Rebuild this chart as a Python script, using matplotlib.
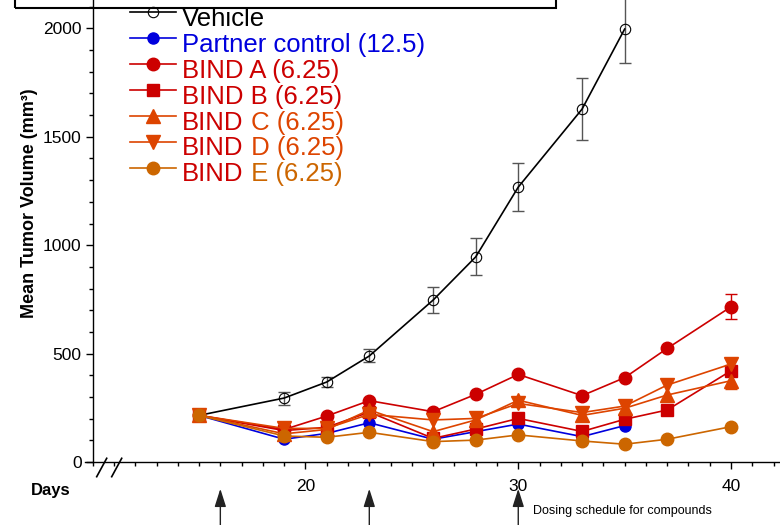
import numpy as np
import matplotlib
matplotlib.use("Agg")
import matplotlib.pyplot as plt
from matplotlib.lines import Line2D
from matplotlib.patches import Rectangle
from matplotlib.ticker import MultipleLocator, FixedLocator
from matplotlib.transforms import Bbox, TransformedBbox

plt.rcParams['font.family'] = ['Liberation Sans', 'DejaVu Sans']

# Data
vehicle_days = [15, 19, 21, 23, 26, 28, 30, 33, 35]
vehicle = [215, 295, 369, 489, 747, 946, 1268, 1628, 1997]
vehicle_err = [0, 30, 25, 30, 60, 85, 110, 143, 155]

partner_days = [15, 19, 21, 23, 26, 28, 30, 33, 35]
partner = [215, 105, 132, 181, 105, 140, 175, 117, 168]

bind_days = [15, 19, 21, 23, 26, 28, 30, 33, 35, 37, 40]
bind_a = [215, 150, 212, 283, 232, 312, 404, 306, 389, 524, 716]
bind_a_err = [0, 0, 0, 0, 0, 0, 0, 0, 0, 0, 57]
bind_b = [215, 145, 160, 230, 109, 152, 201, 141, 197, 240, 421]
bind_c = [215, 130, 150, 240, 140, 194, 285, 215, 248, 309, 375]
bind_c_err = [0, 0, 0, 0, 0, 0, 0, 0, 0, 0, 38]
bind_d = [215, 155, 155, 220, 194, 201, 270, 228, 258, 355, 452]
bind_e = [215, 120, 114, 137, 94, 101, 125, 97, 82, 105, 163]

dosing_days = [16, 23, 30]

RED = '#cc0000'
ORANGE_RED = '#dd4400'
ORANGE = '#cc6600'
BLUE = '#0000dd'

W, H = 780, 525
fig = plt.figure(figsize=(W / 100, H / 100), dpi=100)
ax = fig.add_axes([85 / W, 63 / H, 695 / W, 462 / H])


def px(x, y):
    # figure pixel (from top-left) -> figure fraction
    return x / W, 1 - y / H


def err_bars(days, vals, errs, color):
    d = [x for x, e in zip(days, errs) if e > 0]
    v = [x for x, e in zip(vals, errs) if e > 0]
    e = [x for x in errs if x > 0]
    ax.errorbar(d, v, yerr=e, fmt='none', ecolor=color, elinewidth=1,
                capsize=4.5, capthick=1, zorder=2)


lw = 1.2
err_bars(vehicle_days, vehicle, vehicle_err, '#555555')
ax.plot(vehicle_days, vehicle, color='black', lw=lw, marker='o', ms=7.5,
        mfc='none', mec='black', mew=0.8, zorder=3)
ax.plot(partner_days, partner, color=BLUE, lw=lw, marker='o', ms=8, zorder=3)
err_bars(bind_days, bind_a, bind_a_err, RED)
ax.plot(bind_days, bind_a, color=RED, lw=lw, marker='o', ms=9, zorder=3)
ax.plot(bind_days, bind_b, color=RED, lw=lw, marker='s', ms=8.5, zorder=3)
err_bars(bind_days, bind_c, bind_c_err, ORANGE_RED)
ax.plot(bind_days, bind_c, color=ORANGE_RED, lw=lw, marker='^', ms=9.5, zorder=3)
ax.plot(bind_days, bind_d, color=ORANGE_RED, lw=lw, marker='v', ms=9.5, zorder=3)
ax.plot(bind_days, bind_e, color=ORANGE, lw=lw, marker='o', ms=9, zorder=3)

# axes styling
ax.set_xlim(9.64, 42.3)
ax.set_ylim(0, 2131)
ax.spines['top'].set_visible(False)
ax.spines['right'].set_visible(False)
ax.spines['left'].set_position(('data', 10))
for s in ('left', 'bottom'):
    ax.spines[s].set_linewidth(1.0)
ax.xaxis.set_major_locator(FixedLocator([20, 30, 40]))
ax.xaxis.set_minor_locator(MultipleLocator(1))
ax.yaxis.set_major_locator(MultipleLocator(500))
ax.yaxis.set_minor_locator(MultipleLocator(100))
ax.tick_params(axis='both', which='major', length=5, width=1, labelsize=12.5)
ax.tick_params(axis='both', which='minor', length=3, width=1)
ax.tick_params(axis='x', which='major', pad=7)
ax.tick_params(axis='y', which='major', pad=3)

ax.set_ylabel('Mean Tumor Volume (mm³)', fontsize=13, fontweight='bold')
ax.yaxis.set_label_coords(-0.068, 0.56)

# axis break marks
for x0 in (96.7, 111.7):
    fig.add_artist(Line2D([x0 / W, (x0 + 10) / W], [1 - 476.7 / H, 1 - 458.3 / H],
                          color='black', lw=1.2))

# "Days" label, clipped like the original
days_txt = fig.text(*px(31, 495), 'Days', fontsize=12, fontweight='bold',
                    va='baseline', ha='left')
days_txt.set_clip_box(TransformedBbox(Bbox([[0, 0], [69 / W, 1]]), fig.transFigure))
days_txt.set_clip_on(True)

# dosing arrows
for d in dosing_days:
    ax.annotate('', xy=(d, -0.058), xytext=(d, -0.15),
                xycoords=ax.get_xaxis_transform(),
                arrowprops=dict(arrowstyle='-|>,head_length=1.1,head_width=0.35',
                                mutation_scale=10, color='#222222', lw=1,
                                shrinkA=0, shrinkB=0),
                annotation_clip=False)
fig.text(*px(533, 511), 'Dosing schedule for compounds', fontsize=9,
         va='center', ha='left')

# box at the top
fig.add_artist(Rectangle(px(15, 8), 541 / W, 0.2, transform=fig.transFigure,
                         fill=False, lw=1.5, edgecolor='black', clip_on=False))

# legend with two-coloured labels
entries = [
    ('o', 'black', 'none', 7.5, [('Vehicle', 'black')]),
    ('o', BLUE, BLUE, 8, [('Partner control (12.5)', BLUE)]),
    ('o', RED, RED, 9, [('BIND A (6.25)', RED)]),
    ('s', RED, RED, 8.5, [('BIND B (6.25)', RED)]),
    ('^', ORANGE_RED, ORANGE_RED, 9.5, [('BIND', RED), (' C (6.25)', ORANGE_RED)]),
    ('v', ORANGE_RED, ORANGE_RED, 9.5, [('BIND', RED), (' D (6.25)', ORANGE_RED)]),
    ('o', ORANGE, ORANGE, 9, [('BIND', RED), (' E (6.25)', ORANGE)]),
]
for i, (mk, col, fc, ms, parts) in enumerate(entries):
    base = 26 + i * 25.9
    ly = base - 13.8
    xs = [130 / W, 153 / W, 176 / W]
    fig.add_artist(Line2D(xs, [1 - ly / H] * 3, color=col, lw=lw, marker=mk,
                          markevery=[1], ms=ms, mfc=fc, mec=col,
                          mew=0.8 if fc == 'none' else 1))
    first = fig.text(*px(182, base), parts[0][0], fontsize=18.5, color=parts[0][1],
                     va='baseline', ha='left')
    for txt, c in parts[1:]:
        ax.annotate(txt, xy=(1, 0), xycoords=first, va='bottom', ha='left',
                    fontsize=18.5, color=c, annotation_clip=False)

fig.savefig('out.png', dpi=100)
